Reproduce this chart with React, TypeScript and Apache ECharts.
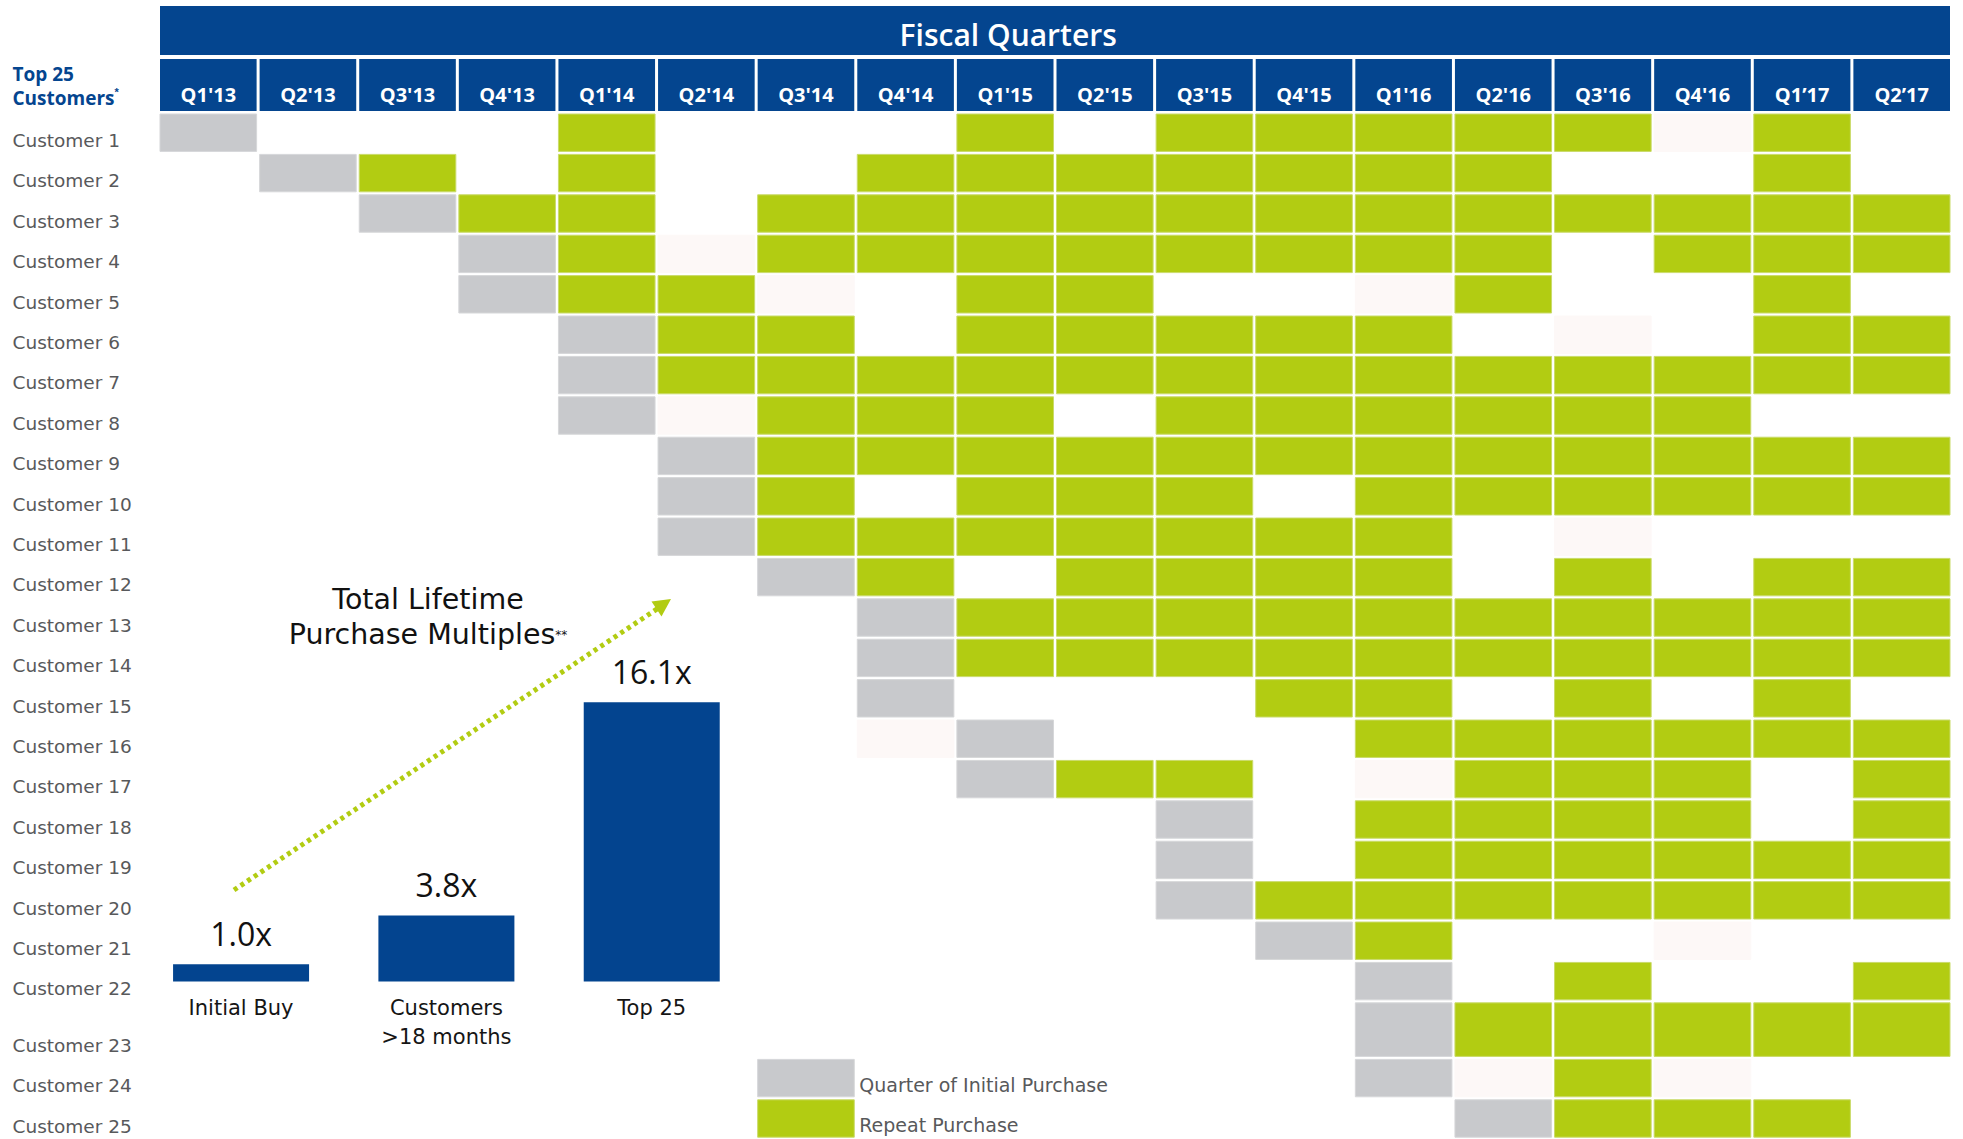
import React, { useEffect, useRef } from "react";
import * as echarts from "echarts";

const quarters = [
  "Q1'13", "Q2'13", "Q3'13", "Q4'13", "Q1'14", "Q2'14", "Q3'14", "Q4'14", "Q1'15",
  "Q2'15", "Q3'15", "Q4'15", "Q1'16", "Q2'16", "Q3'16", "Q4'16", "Q1\u201917", "Q2\u201917",
];

const customers = [
  "Customer 1", "Customer 2", "Customer 3", "Customer 4", "Customer 5", "Customer 6",
  "Customer 7", "Customer 8", "Customer 9", "Customer 10", "Customer 11", "Customer 12",
  "Customer 13", "Customer 14", "Customer 15", "Customer 16", "Customer 17", "Customer 18",
  "Customer 19", "Customer 20", "Customer 21", "Customer 22", "Customer 23", "Customer 24",
  "Customer 25",
];

// I = quarter of initial purchase, R = repeat purchase, f = faint tint, . = none
const purchaseRows = [
  "I...R...R.RRRRRfR.",
  ".IR.R..RRRRRRR..R.",
  "..IRR.RRRRRRRRRRRR",
  "...IRfRRRRRRRR.RRR",
  "...IRRf.RR..fR..R.",
  "....IRR.RRRRR.f.RR",
  "....IRRRRRRRRRRRRR",
  "....IfRRR.RRRRRR..",
  ".....IRRRRRRRRRRRR",
  ".....IR.RRR.RRRRRR",
  ".....IRRRRRRR.f...",
  "......IR.RRRR.R.RR",
  ".......IRRRRRRRRRR",
  ".......IRRRRRRRRRR",
  ".......I...RR.R.R.",
  ".......fI...RRRRRR",
  "........IRR.fRRR.R",
  "..........I.RRRR.R",
  "..........I.RRRRRR",
  "..........IRRRRRRR",
  "...........IR..f..",
  "............I.R..R",
  "............IRRRRR",
  "............IfRf..",
  ".............IRRR.",
];

const multipleCats = ["Initial Buy", "Customers\n>18 months", "Top 25"];
const multipleValues = [1.0, 3.8, 16.1];

const legendLabels = ["Quarter of Initial Purchase", "Repeat Purchase"];

const BLUE = "#04458F";
const GREEN = "#B2CC12";
const GRAY = "#C8C9CC";
const FAINT = "#FDF8F7";
const FONT = "'Open Sans', 'Noto Sans', sans-serif";
const WIDE = "'DejaVu Sans', 'Open Sans', sans-serif";

const typeCode: Record<string, number> = { I: 1, R: 2, f: 3 };
const fills = ["#fff", GRAY, GREEN, FAINT];
const strokes = ["#fff", "#D6D7D9", "#CADB6A", FAINT];

export default function App() {
  const ref = useRef<HTMLDivElement>(null);

  useEffect(() => {
    document.body.style.margin = "0";
    const chart = echarts.init(ref.current!, null, { renderer: "svg" });

    const rowHeights = customers.map((_, i) => (i === 22 ? 1.4 : 1));
    const rowStart: number[] = [];
    let acc = 0;
    rowHeights.forEach((h) => {
      rowStart.push(acc);
      acc += h;
    });
    const totalRows = acc;

    const cellData: number[][] = [];
    purchaseRows.forEach((row, r) => {
      row.split("").forEach((ch, c) => {
        if (typeCode[ch]) cellData.push([c, r, typeCode[ch]]);
      });
    });

    const cellRect = (api: any, c: number, r: number) => {
      const p0 = api.coord([c, rowStart[r]]);
      const p1 = api.coord([c + 1, rowStart[r] + rowHeights[r]]);
      return {
        x: p0[0] + 1.5,
        y: p0[1] + 1.5,
        width: p1[0] - p0[0] - 3,
        height: p1[1] - p0[1] - 3,
      };
    };

    const option: any = {
      animation: false,
      backgroundColor: "#fff",
      grid: [
        { left: 158.5, top: 112.5, width: 1793, height: 1026.2 },
        { left: 138.4, top: 634.5, width: 616, height: 347 },
      ],
      xAxis: [
        { type: "value", gridIndex: 0, min: 0, max: quarters.length, show: false },
        {
          type: "category",
          gridIndex: 1,
          data: multipleCats,
          axisLine: { show: false },
          axisTick: { show: false },
          axisLabel: {
            fontSize: 21,
            color: "#151515",
            fontFamily: WIDE,
            lineHeight: 29,
            margin: 12,
          },
        },
      ],
      yAxis: [
        { type: "value", gridIndex: 0, inverse: true, min: 0, max: totalRows, show: false },
        { type: "value", gridIndex: 1, min: 0, max: 20, show: false },
      ],
      series: [
        {
          type: "custom",
          name: "cells",
          xAxisIndex: 0,
          yAxisIndex: 0,
          data: cellData,
          encode: { x: 0, y: 1 },
          renderItem: (params: any, api: any) => {
            const c = api.value(0);
            const r = api.value(1);
            const t = api.value(2);
            return {
              type: "rect",
              shape: cellRect(api, c, r),
              style: { fill: fills[t], stroke: strokes[t], lineWidth: 1 },
            };
          },
        },
        {
          type: "custom",
          name: "customerLabels",
          xAxisIndex: 0,
          yAxisIndex: 0,
          data: customers.map((_, i) => [0, i]),
          encode: { x: 0, y: 1 },
          renderItem: (params: any, api: any) => {
            const i = params.dataIndex;
            const pb = api.coord([0, rowStart[i] + rowHeights[i]]);
            return {
              type: "text",
              style: {
                text: customers[i],
                x: 12.5,
                y: pb[1] - 12.5,
                fill: "#58595B",
                fontSize: 18.5,
                fontFamily: WIDE,
                align: "left",
                verticalAlign: "middle",
              },
            };
          },
        },
        {
          type: "custom",
          name: "quarterHeader",
          xAxisIndex: 0,
          yAxisIndex: 0,
          data: quarters.map((_, i) => [i, 0]),
          encode: { x: 0, y: 1 },
          renderItem: (params: any, api: any) => {
            const i = params.dataIndex;
            const p0 = api.coord([i, 0]);
            const p1 = api.coord([i + 1, 0]);
            return {
              type: "group",
              children: [
                {
                  type: "rect",
                  shape: { x: p0[0] + 1.5, y: p0[1] - 53.5, width: p1[0] - p0[0] - 3, height: 52 },
                  style: { fill: BLUE },
                },
                {
                  type: "text",
                  style: {
                    text: quarters[i],
                    x: (p0[0] + p1[0]) / 2,
                    y: p0[1] - 18,
                    fill: "#fff",
                    fontSize: 20,
                    fontWeight: "bold",
                    fontFamily: FONT,
                    align: "center",
                    verticalAlign: "middle",
                  },
                },
              ],
            };
          },
        },
        {
          type: "custom",
          name: "fiscalHeader",
          xAxisIndex: 0,
          yAxisIndex: 0,
          data: [[0, 0]],
          encode: { x: 0, y: 1 },
          renderItem: (params: any, api: any) => {
            const p0 = api.coord([0, 0]);
            const p1 = api.coord([quarters.length, 0]);
            const pt = api.coord([8.53, 0]);
            return {
              type: "group",
              children: [
                {
                  type: "rect",
                  shape: { x: p0[0] + 1.5, y: p0[1] - 106.5, width: p1[0] - p0[0] - 3, height: 49 },
                  style: { fill: BLUE },
                },
                {
                  type: "text",
                  style: {
                    text: "Fiscal Quarters",
                    x: pt[0],
                    y: p0[1] - 78,
                    fill: "#fff",
                    fontSize: 30,
                    fontWeight: 600,
                    fontFamily: FONT,
                    align: "center",
                    verticalAlign: "middle",
                  },
                },
              ],
            };
          },
        },
        {
          type: "custom",
          name: "legend",
          xAxisIndex: 0,
          yAxisIndex: 0,
          data: [[6, 23, 1], [6, 24, 2]],
          encode: { x: 0, y: 1 },
          renderItem: (params: any, api: any) => {
            const c = api.value(0);
            const r = api.value(1);
            const t = api.value(2);
            const rect = cellRect(api, c, r);
            return {
              type: "group",
              children: [
                {
                  type: "rect",
                  shape: rect,
                  style: { fill: fills[t], stroke: strokes[t], lineWidth: 1 },
                },
                {
                  type: "text",
                  style: {
                    text: legendLabels[params.dataIndex],
                    x: rect.x + rect.width + 5,
                    y: rect.y + rect.height - 12,
                    fill: "#58595B",
                    fontSize: 19,
                    fontFamily: WIDE,
                    align: "left",
                    verticalAlign: "middle",
                  },
                },
              ],
            };
          },
        },
        {
          type: "bar",
          name: "multiples",
          xAxisIndex: 1,
          yAxisIndex: 1,
          data: multipleValues,
          barWidth: 136,
          itemStyle: { color: "#03448F" },
          label: {
            show: true,
            position: "top",
            distance: 15,
            fontSize: 32,
            color: "#111",
            fontFamily: FONT,
            formatter: (p: any) => Number(p.value).toFixed(1) + "x",
          },
        },
      ],
      graphic: [
        {
          type: "text",
          left: 12.5,
          top: 62,
          style: {
            text: "Top 25\nCustomers{s|*}",
            fill: BLUE,
            fontSize: 19,
            fontWeight: "bold",
            fontFamily: FONT,
            lineHeight: 24,
            rich: {
              s: { fontSize: 11, fontWeight: "bold", fill: BLUE, verticalAlign: "top", lineHeight: 24 },
            },
          },
        },
        {
          type: "text",
          x: 428,
          y: 617,
          style: {
            text: "Total Lifetime\nPurchase Multiples{s|**}",
            fill: "#111",
            fontSize: 28.5,
            fontFamily: WIDE,
            lineHeight: 35,
            align: "center",
            verticalAlign: "middle",
            rich: {
              s: { fontSize: 12, fill: "#111", fontFamily: WIDE, lineHeight: 35 },
            },
          },
        },
        {
          type: "line",
          shape: { x1: 234, y1: 890, x2: 660, y2: 607 },
          style: { stroke: GREEN, lineWidth: 5, lineDash: [4, 4] },
        },
        {
          type: "polygon",
          shape: { points: [[671, 599], [661.5, 616.5], [651.5, 601.5]] },
          style: { fill: GREEN },
        },
      ],
    };

    chart.setOption(option);
    return () => chart.dispose();
  }, []);

  return <div ref={ref} style={{ width: 1963, height: 1139, background: "#fff" }} />;
}
